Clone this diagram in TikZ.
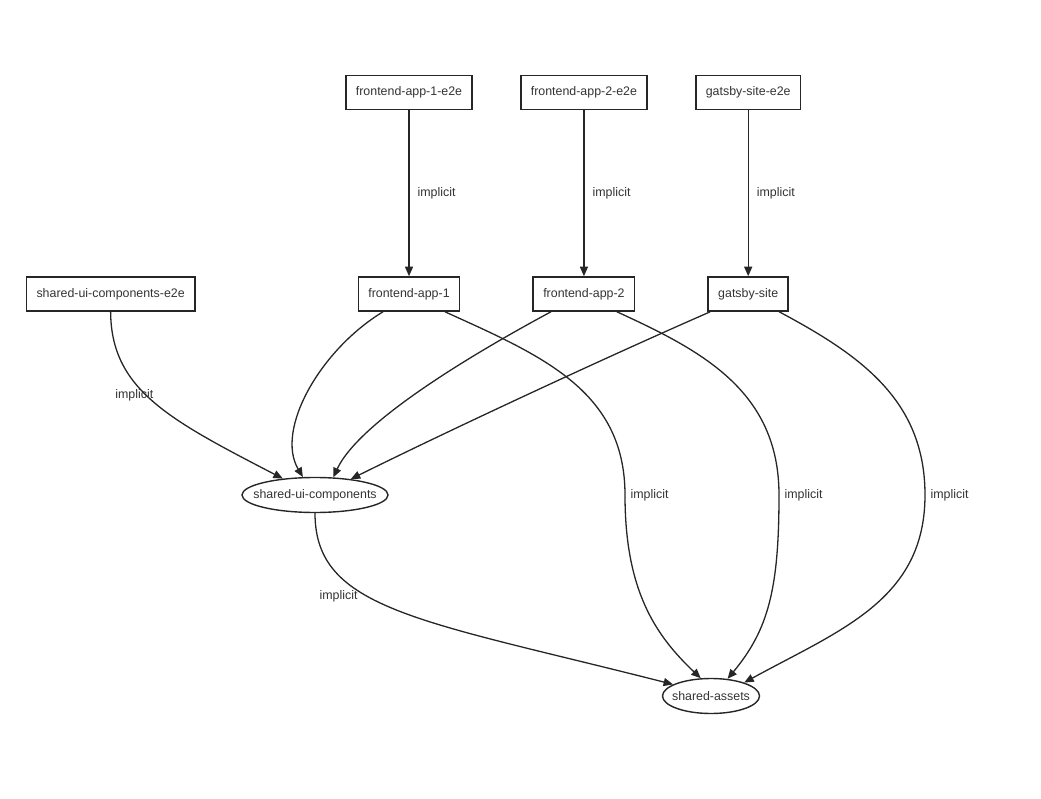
\documentclass[tikz,border=0pt]{standalone}
\usepackage{fontspec}
\setmainfont{Liberation Sans}
\usetikzlibrary{positioning,shapes.geometric,arrows.meta}

\tikzset{
    pkg/.style={draw=black!85, line width=1.6pt, rectangle, minimum height=34pt,
        inner xsep=10pt, text=black!80, font=\fontsize{12.4}{14}\selectfont},
    lib/.style={draw=black!85, line width=1.4pt, ellipse, inner sep=0pt,
        minimum height=35pt, text=black!80, font=\fontsize{12.4}{14}\selectfont},
    dep/.style={-{Triangle[length=9.5pt,width=8pt]}, draw=black!85, line width=1.3pt},
    lbl/.style={inner sep=0pt, text=black!80, font=\fontsize{12.4}{14}\selectfont}
}

\begin{document}
\begin{tikzpicture}[x=1pt, y=-1pt]
            \useasboundingbox (0,0) rectangle (1041,799);

            \node[pkg] (app1) at (409,294) {frontend-app-1};
            \node[pkg, right=72pt of app1] (app2) {frontend-app-2};
            \node[pkg, right=72pt of app2] (gs) {gatsby-site};
            \node[pkg, left=162pt of app1] (suie2e) {shared-ui-components-e2e};
            \node[pkg, above=166pt of app1] (app1e2e) {frontend-app-1-e2e};
            \node[pkg, above=166pt of app2] (app2e2e) {frontend-app-2-e2e};
            \node[pkg, above=166pt of gs] (gse2e) {gatsby-site-e2e};
            \node[lib, minimum width=146pt] (sui) at (315,495) {\makebox[0pt]{shared-ui-components}};
            \node[lib, minimum width=97pt] (sa) at (711,696) {\makebox[0pt]{shared-assets}};

            % e2e tests
            \draw[dep] (app1e2e) -- (app1) node[lbl, midway, right=8pt] (l1) {implicit};
            \draw[dep] (app2e2e) -- (app2) node[lbl, midway, right=8pt] (l2) {implicit};
            \draw[dep] (gse2e) -- (gs) node[lbl, midway, right=8pt] (l3) {implicit};
            \draw[dep] (suie2e.south) .. controls (111,390) and (170,420) .. (sui.153)
                node[lbl, pos=0.45, xshift=-12pt] (l4) {implicit};

            % into shared-ui-components
            \draw[dep] ([xshift=-26pt]app1.south) .. controls (320,350) and (275,430) .. (sui.124);
            \draw[dep] ([xshift=-33pt]app2.south) .. controls (480,350) and (360,420) .. (sui.44);
            \draw[dep] ([xshift=-38pt]gs.south) .. controls (600,360) and (450,430) .. (sui.24);

            % into shared-assets
            \draw[dep] ([xshift=36pt]app1.south) .. controls (540,355) and (625,390) .. (625,495)
                node[lbl, right=5pt] (l5) {implicit}
                .. controls (625,590) and (655,635) .. (sa.120);
            \draw[dep] ([xshift=33pt]app2.south) .. controls (700,350) and (779,390) .. (779,495)
                node[lbl, right=5pt] (l6) {implicit}
                .. controls (779,590) and (768,630) .. (sa.46);
            \draw[dep] ([xshift=31pt]gs.south) .. controls (860,355) and (925,400) .. (925,495)
                node[lbl, right=5pt] (l7) {implicit}
                .. controls (925,600) and (840,630) .. (sa.22);
            \draw[dep] (sui.south) .. controls (315,610) and (420,620) .. (sa.163)
                node[lbl, pos=0.4, left=10pt] (l8) {implicit};
        \end{tikzpicture}
\end{document}
